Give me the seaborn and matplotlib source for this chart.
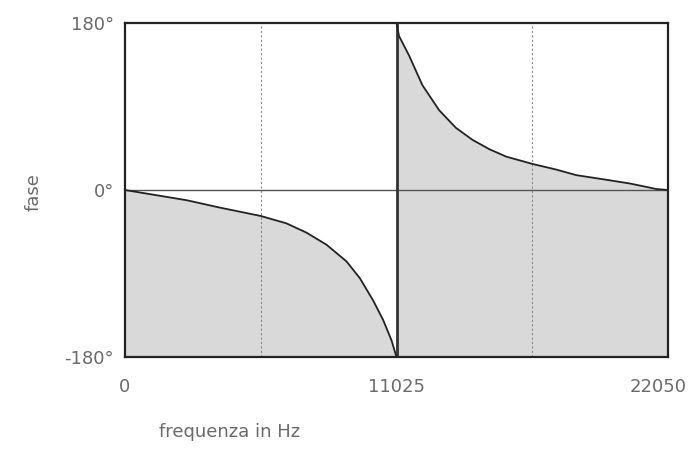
import matplotlib
matplotlib.use("Agg")
from matplotlib import pyplot as plt
from matplotlib import transforms
import seaborn as sns
import pandas as pd

# phase response: first half falls 0 -> -180,
# second half jumps to +180 and falls back to 0
left_hz = [0, 1136, 2504, 3855, 5512, 6561, 7373, 8185, 8996, 9536, 10075, 10481, 10822, 11025]
left_deg = [0, -5, -11, -19, -28, -36, -46, -59, -77, -95, -119, -140, -162, -180]
right_hz = [11025, 11127, 11534, 12077, 12757, 13438, 14114, 14795, 15476, 16560, 17514, 18329, 19552, 20502, 21590, 22050]
right_deg = [180, 166, 145, 113, 86, 67, 54, 44, 36, 28, 22, 16, 11, 7, 1, 0]

x_ticks = [0, 11025, 22050]
x_labels = ["0", "11025", "22050"]
y_ticks = [-180, 0, 180]
y_labels = ["-180°", "0°", "180°"]
grid_x = [5512.5, 16537.5]

sns.set_style("white")
plt.rcParams["font.family"] = ["DejaVu Sans"]

fig = plt.figure(figsize=(6.92, 4.49), dpi=100)
ax = fig.add_axes([125 / 692, 1 - 357 / 449, 543 / 692, 334 / 449])

df_left = pd.DataFrame({"hz": left_hz, "deg": left_deg})
df_right = pd.DataFrame({"hz": right_hz, "deg": right_deg})

ax.fill_between(df_left["hz"], -180, df_left["deg"], color="#d9d9d9", lw=0, zorder=1)
ax.fill_between(df_right["hz"], -180, df_right["deg"], color="#d9d9d9", lw=0, zorder=1)

for gx in grid_x:
    ax.axvline(gx, color="#8a8a8a", lw=0.8, ls=(0, (2, 2)), zorder=2)
ax.axhline(0, color="#555555", lw=1.0, zorder=2)
ax.axvline(11025, color="#333333", lw=2.0, zorder=3)

sns.lineplot(data=df_left, x="hz", y="deg", sort=False, color="#222222", lw=1.3, ax=ax, zorder=4)
sns.lineplot(data=df_right, x="hz", y="deg", sort=False, color="#222222", lw=1.3, ax=ax, zorder=4)

ax.set_xlim(0, 22050)
ax.set_ylim(-180, 180)
ax.set_xticks(x_ticks)
ax.set_xticklabels(x_labels)
ax.set_yticks(y_ticks)
ax.set_yticklabels(y_labels)
ax.tick_params(axis="both", length=0, labelsize=13, labelcolor="#6a6a6a")
ax.tick_params(axis="x", pad=15)
ax.tick_params(axis="y", pad=8)

# last x label sits a bit to the right and must stay in the figure
last = ax.get_xticklabels()[-1]
last.set_horizontalalignment("right")
last.set_transform(last.get_transform() + transforms.ScaledTranslation(19 / 100, 0, fig.dpi_scale_trans))

for s in ax.spines.values():
    s.set_color("#222222")
    s.set_linewidth(1.6)

ax.set_xlabel("frequenza in Hz", fontsize=13, color="#6a6a6a", ha="center", va="center")
ax.xaxis.set_label_coords(0.193, -0.225)
ax.set_ylabel("fase", fontsize=13, color="#6a6a6a", ha="center", va="center")
ax.yaxis.set_label_coords(-0.169, 0.494)

fig.savefig("out.png", dpi=100)
